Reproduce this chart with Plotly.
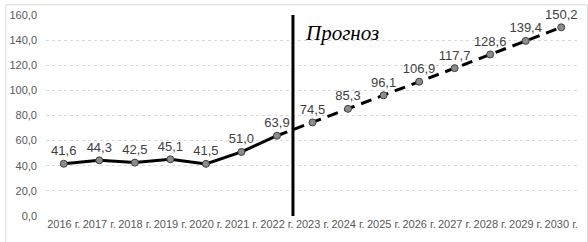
import plotly.graph_objects as go

years = ["2016 г.", "2017 г.", "2018 г.", "2019 г.", "2020 г.", "2021 г.", "2022 г.",
         "2023 г.", "2024 г.", "2025 г.", "2026 г.", "2027 г.", "2028 г.", "2029 г.", "2030 г."]
actual_years = years[:7]
actual_vals = [41.6, 44.3, 42.5, 45.1, 41.5, 51.0, 63.9]
forecast_years = years[7:]
forecast_vals = [74.5, 85.3, 96.1, 106.9, 117.7, 128.6, 139.4, 150.2]
y_ticks = [0, 20, 40, 60, 80, 100, 120, 140, 160]

W, H = 588, 242
ML, MR, MT, MB = 41, 9, 11, 26
PW, PH = W - ML - MR, H - MT - MB

def lab(v):
    return f"{v:.1f}".replace(".", ",")

fig = go.Figure()
fig.add_trace(go.Scatter(
    x=[actual_years[-1]] + forecast_years, y=[actual_vals[-1]] + forecast_vals,
    mode="lines", line=dict(color="black", width=3, dash="11px,7px"),
    hoverinfo="skip", showlegend=False))
fig.add_trace(go.Scatter(
    x=actual_years, y=actual_vals, mode="lines+markers+text",
    line=dict(color="black", width=3),
    marker=dict(size=7, color="#8c8c8c", line=dict(color="#404040", width=1)),
    text=[lab(v) for v in actual_vals], textposition="top center",
    textfont=dict(size=13, color="#404040", family="Liberation Sans, Arial"),
    showlegend=False, cliponaxis=False))
fig.add_trace(go.Scatter(
    x=forecast_years, y=forecast_vals, mode="markers+text",
    marker=dict(size=7, color="#8c8c8c", line=dict(color="#404040", width=1)),
    text=[lab(v) for v in forecast_vals], textposition="top center",
    textfont=dict(size=13, color="#404040", family="Liberation Sans, Arial"),
    showlegend=False, cliponaxis=False))

fig.add_shape(type="line", xref="x", yref="paper", x0=6.45, x1=6.45, y0=0, y1=1,
              line=dict(color="black", width=3))
fig.add_annotation(x=6.45, xref="x", y=(H - 29 - MB) / PH, yref="paper",
                   xanchor="left", yanchor="middle", xshift=10,
                   text="<i>Прогноз</i>", showarrow=False,
                   font=dict(family="Liberation Serif, Times New Roman", size=21, color="black"))
fig.add_shape(type="rect", xref="paper", yref="paper", layer="above",
              x0=(0.5 - ML) / PW, x1=(W - 0.5 - ML) / PW,
              y0=(MB - (H - 0.5)) / PH + 0, y1=(H - 0.5 - MB) / PH,
              line=dict(color="#d9d9d9", width=1))

fig.update_layout(
    width=W, height=H, margin=dict(l=ML, r=MR, t=MT, b=MB),
    paper_bgcolor="white", plot_bgcolor="white", separators=", ",
    font=dict(family="Liberation Sans, Arial", size=11, color="#595959"),
    xaxis=dict(type="category", categoryorder="array", categoryarray=years,
               range=[-0.5, 14.5], showgrid=False, showline=False, ticks="",
               tickfont=dict(size=11, color="#595959"), tickangle=0),
    yaxis=dict(range=[0, 160], tickvals=y_ticks, tickformat=".1f",
               showgrid=True, gridcolor="#d9d9d9", gridwidth=1, griddash="dot",
               zeroline=False, showline=False, ticks="", ticklabelstandoff=8,
               tickfont=dict(size=11, color="#595959")),
)
fig.write_html("out.html")
